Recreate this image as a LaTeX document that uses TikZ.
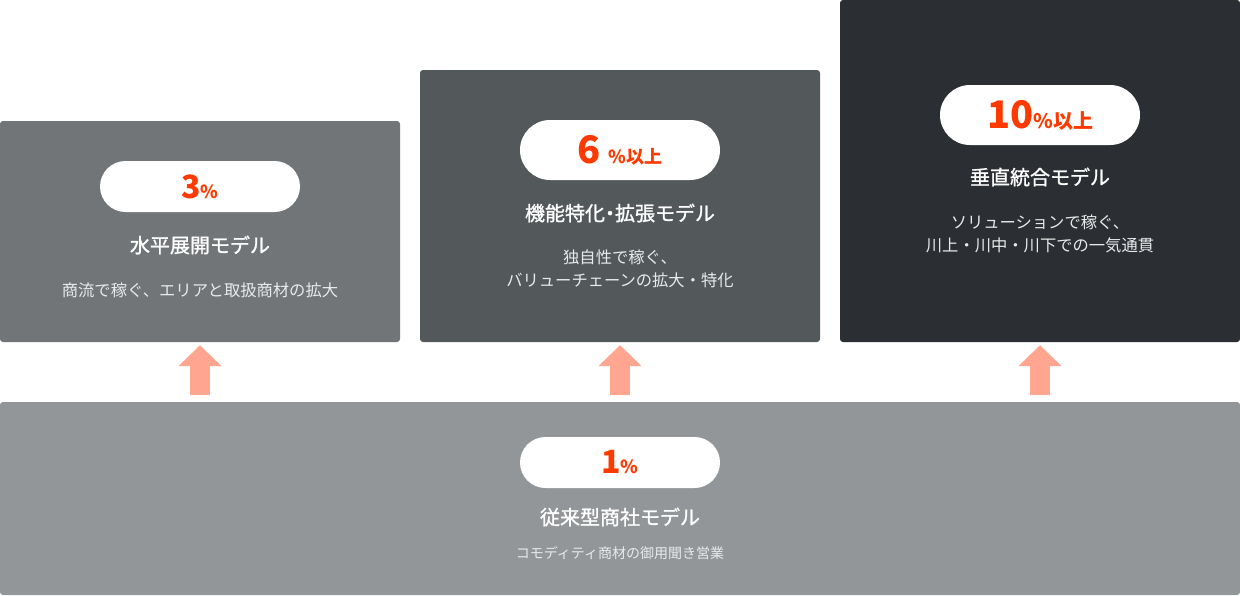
\documentclass[tikz,border=0pt]{standalone}
\usepackage{fontspec}
\setmainfont{Noto Sans CJK JP}
\newfontfamily\titlefont{Noto Sans CJK JP}[FakeBold=1.2]
\usetikzlibrary{calc, arrows.meta, shapes.misc}
\definecolor{BoxBase}{HTML}{939699}
\definecolor{BoxHorizontal}{HTML}{727578}
\definecolor{BoxFunction}{HTML}{53585B}
\definecolor{BoxVertical}{HTML}{2B2F33}
\definecolor{RateRed}{HTML}{FF3A00}
\definecolor{ArrowSalmon}{HTML}{FFA590}
\definecolor{SubText}{HTML}{E8E9EA}
\tikzset{
    model box/.style={
        rectangle, rounded corners=3pt, inner sep=0pt, draw=none
    },
    rate pill/.style={
        rounded rectangle, fill=white, minimum width=200pt, inner sep=0pt,
        text=RateRed, font=\bfseries
    },
    model title/.style={
        text=white, font=\titlefont\fontsize{20}{24}\selectfont
    },
    model text/.style={
        text=SubText, align=center, font=\fontsize{16.3}{23}\selectfont
    },
    up arrow/.style={
        draw=ArrowSalmon, line width=20pt,
        -{Triangle[width=42pt, length=21pt]}
    }
}
\newcommand{\bignum}[1]{{\fontsize{32}{32}\selectfont #1}}
\newcommand{\hugenum}[1]{{\fontsize{38}{38}\selectfont #1}}
\newcommand{\unitsmall}[1]{{\fontsize{18}{18}\selectfont #1}}
\newcommand{\unitbig}[1]{{\fontsize{20}{20}\selectfont #1}}
\newcommand{\middot}{\kern-5pt・\kern-5pt}

\begin{document}
\begin{tikzpicture}[x=1pt, y=-1pt]

% Fondo y limites de la figura.
\fill[white] (0,0) rectangle (1240,595);
\useasboundingbox (0,0) rectangle (1240,595);

% Cajas de cada modelo.
\node[model box, fill=BoxHorizontal, minimum width=400pt, minimum height=221pt]
    (hz) at (200,231.5) {};
\node[model box, fill=BoxFunction, minimum width=400pt, minimum height=272pt]
    (fn) at (620,206) {};
\node[model box, fill=BoxVertical, minimum width=400pt, minimum height=342pt]
    (vt) at (1040,171) {};
\node[model box, fill=BoxBase, minimum width=1240pt, minimum height=193pt]
    (base) at (620,498.5) {};

% Porcentajes en las pastillas blancas.
\node[rate pill, minimum height=51pt] (hzrate) at (200,186.5)
    {\bignum{3}\unitsmall{\%}};
\node[rate pill, minimum height=60pt] (fnrate) at (620,150)
    {\hugenum{6}\hspace{8pt}\unitsmall{\%以上}};
\node[rate pill, minimum height=60pt] (vtrate) at (1040,115)
    {\hugenum{10}\unitbig{\%以上}};
\node[rate pill, minimum height=51pt] (baserate) at (620,462.5)
    {\bignum{1}\unitsmall{\%}};

% Nombres de los modelos.
\node[model title] (hztitle) at (200,245) {水平展開モデル};
\node[model title] (fntitle) at (620,213) {機能特化\middot 拡張モデル};
\node[model title] (vttitle) at (1040,177) {垂直統合モデル};
\node[model title] (basetitle) at (620,517) {従来型商社モデル};

% Descripciones.
\node[model text] (hztext) at (200,290) {商流で稼ぐ、エリアと取扱商材の拡大};
\node[model text] (fntext) at (620,268.5) {独自性で稼ぐ、\\バリューチェーンの拡大・特化};
\node[model text] (vttext) at (1040,233.5) {ソリューションで稼ぐ、\\川上・川中・川下での一気通貫};
\node[model text, font=\fontsize{14}{18}\selectfont] (basetext) at (620,553)
    {コモディティ商材の御用聞き営業};

% Flechas desde el modelo base hacia cada modelo.
\draw[up arrow] ($(base.north -| hz.south)+(0,-7)$) -- ($(hz.south)+(0,3)$);
\draw[up arrow] ($(base.north -| fn.south)+(0,-7)$) -- ($(fn.south)+(0,3)$);
\draw[up arrow] ($(base.north -| vt.south)+(0,-7)$) -- ($(vt.south)+(0,3)$);

\end{tikzpicture}
\end{document}
